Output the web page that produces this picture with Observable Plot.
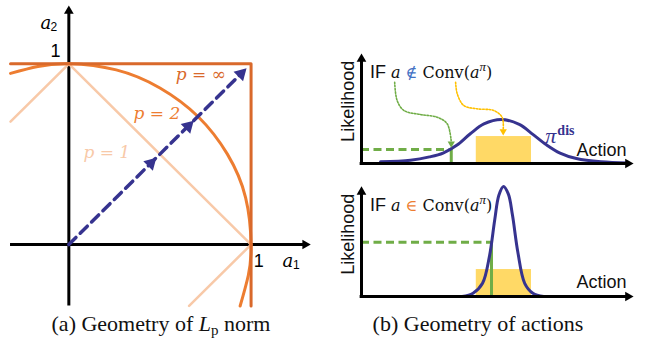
<!DOCTYPE html>
<html>
<head>
<meta charset="utf-8">
<script src="https://cdn.jsdelivr.net/npm/d3@7"></script>
<script src="https://cdn.jsdelivr.net/npm/@observablehq/plot@0.6"></script>
<style>
  body { margin: 0; background: #fff; }
  #fig { position: relative; width: 645px; height: 350px; overflow: hidden; font-family: "Liberation Sans", Arial, sans-serif; }
  .panel { position: absolute; }
  .panel svg { overflow: visible; }
  .cap { position: absolute; font-family: "Liberation Serif", "Times New Roman", serif; font-size: 22px; line-height: 1; white-space: nowrap; transform: translateX(-50%); color: #111; }
  .iftxt { position: absolute; font-size: 18px; line-height: 1; white-space: nowrap; color: #111; }
  .m { font-family: "DejaVu Serif", "DejaVu Sans", serif; font-size: 16px; }
  .iftxt sup { font-family: "Liberation Serif", serif; font-size: 13px; vertical-align: 7px; font-style: italic; }
</style>
</head>
<body>
<div id="fig"></div>
<script>
// ---------------- Panel (a): geometry of the L_p norm (unit-ball in a1/a2) ----------------
const a1AxisExtent = [-0.32, 1.327];
const a2AxisExtent = [-0.34, 1.322];
// p = 1 diamond (quadrants II, I, IV)
const p1X = [-0.32, 0, 1, 0.66];
const p1Y = [0.68, 1, 0, -0.34];
// p = 2 circle
const p2X = [-0.32, -0.17, 0, 0.26, 0.5, 0.71, 0.87, 0.97, 1.0, 0.985, 0.94];
const p2Y = [0.947, 0.985, 1, 0.966, 0.866, 0.707, 0.5, 0.26, 0, -0.17, -0.34];
// p = infinity square
const pInfX = [-0.32, 1, 1];
const pInfY = [1, 1, -0.34];
// dashed direction vector
const dirX = [0, 0.95];
const dirY = [0, 0.95];
const dirHeads = [0.45, 0.655, 0.945];
// norm labels
const normLabels = ["p = 1", "p = 2", "p = ∞"];
const normLabelX = [0.08, 0.355, 0.586];
const normLabelY = [0.481, 0.692, 0.91];
// axis labels / ticks
const tickLabels = ["1", "1"];
const tickX = [-0.045, 1.07];
const tickY = [1.035, -0.122];

// ---------------- Panel (b): geometry of actions ----------------
// top: wide distribution pi^dis
const topActions = [0.7, 1.8, 2.5, 3.0, 3.5, 4.0, 4.5, 5.15, 5.8, 6.3, 6.8, 7.3, 7.9, 8.8, 9.8];
const topLikelihood = [0.015, 0.03, 0.06, 0.095, 0.165, 0.27, 0.36, 0.40, 0.355, 0.265, 0.17, 0.095, 0.045, 0.015, 0.005];
// bottom: narrow distribution
const botActions = [3.7, 4.1, 4.45, 4.7, 4.9, 5.05, 5.22, 5.4, 5.55, 5.75, 6.0, 6.3, 6.7];
const botLikelihood = [0.0, 0.03, 0.12, 0.36, 0.70, 0.92, 1.0, 0.93, 0.74, 0.40, 0.12, 0.03, 0.0];
// convex hull of a^pi (yellow box)
const convRange = [4.22, 6.25];
const convHeight = 0.245;
// sampled action a and its likelihood
const sampleAction = [3.30, 4.78];
const sampleLikelihood = [0.127, 0.494];
// dotted pointer arrows (top panel)
const greenPtrA = [1.22, 1.31, 1.56, 2.17, 2.78, 3.15, 3.30];
const greenPtrL = [0.739, 0.573, 0.482, 0.445, 0.421, 0.361, 0.20];
const goldPtrA = [3.46, 3.52, 3.76, 4.25, 4.86, 5.17, 5.21];
const goldPtrL = [0.739, 0.634, 0.527, 0.497, 0.482, 0.421, 0.31];
const axisLabels = ["Likelihood", "Action"];

const pts = (xs, ys) => xs.map((x, i) => ({x, y: ys[i]}));

const NAVY = "#36338f", ORANGE = "#ed7d31", ORANGE_DARK = "#d9692b", ORANGE_LIGHT = "#f8c9a8";
const GREEN = "#70ad47", GOLD = "#ffc000", YELLOW = "#ffd966";
const mathFont = "DejaVu Serif";

const fig = document.getElementById("fig");
function place(node, left, top) {
  const d = document.createElement("div");
  d.className = "panel";
  d.style.left = left + "px";
  d.style.top = top + "px";
  d.appendChild(node);
  fig.appendChild(d);
}

// ---- panel (a)
const plotA = Plot.plot({
  width: 320, height: 310, margin: 0,
  x: {domain: [-0.375, 1.381], axis: null},
  y: {domain: [-0.365, 1.350], axis: null},
  marks: [
    Plot.ruleY([0], {x1: a1AxisExtent[0], x2: a1AxisExtent[1] - 0.02, stroke: "#000", strokeWidth: 3}),
    Plot.ruleX([0], {y1: a2AxisExtent[0], y2: a2AxisExtent[1] - 0.02, stroke: "#000", strokeWidth: 3}),
    Plot.dot([{x: a1AxisExtent[1], y: 0}], {x: "x", y: "y", symbol: "triangle", r: 3.6, rotate: 90, fill: "#000", dx: -5.5}),
    Plot.dot([{x: 0, y: a2AxisExtent[1]}], {x: "x", y: "y", symbol: "triangle", r: 3.6, rotate: 0, fill: "#000", dy: 5.5}),
    Plot.line(pts(p1X, p1Y), {x: "x", y: "y", stroke: ORANGE_LIGHT, strokeWidth: 2.5}),
    Plot.line(pts(p2X, p2Y), {x: "x", y: "y", curve: "natural", stroke: ORANGE, strokeWidth: 3}),
    Plot.line(pts(pInfX, pInfY), {x: "x", y: "y", stroke: ORANGE_DARK, strokeWidth: 3}),
    Plot.line(pts(dirX, dirY), {x: "x", y: "y", stroke: NAVY, strokeWidth: 3.5, strokeDasharray: "10,6"}),
    Plot.dot(dirHeads.map(t => ({x: t, y: t})), {x: "x", y: "y", symbol: "triangle", r: 5, rotate: 45, fill: NAVY}),
    Plot.text(normLabels.map((t, i) => ({t, x: normLabelX[i], y: normLabelY[i], c: [ORANGE_LIGHT, ORANGE, ORANGE_DARK][i]})),
      {x: "x", y: "y", text: "t", fill: "c", textAnchor: "start", lineAnchor: "bottom", fontFamily: mathFont, fontStyle: "italic", fontSize: 17}),
    Plot.text(tickLabels.map((t, i) => ({t, x: tickX[i], y: tickY[i]})),
      {x: "x", y: "y", text: "t", textAnchor: "end", lineAnchor: "bottom", fontSize: 18, fill: "#000", fontFamily: "Liberation Sans"}),
    Plot.text([{x: -0.155, y: 1.194}], {x: "x", y: "y", text: () => "a", textAnchor: "start", lineAnchor: "bottom", fontFamily: mathFont, fontStyle: "italic", fontSize: 18, fill: "#000"}),
    Plot.text([{x: -0.1, y: 1.179}], {x: "x", y: "y", text: () => "2", textAnchor: "start", lineAnchor: "bottom", fontFamily: "Liberation Sans", fontSize: 12, fill: "#000"}),
    Plot.text([{x: 1.172, y: -0.122}], {x: "x", y: "y", text: () => "a", textAnchor: "start", lineAnchor: "bottom", fontFamily: mathFont, fontStyle: "italic", fontSize: 18, fill: "#000"}),
    Plot.text([{x: 1.23, y: -0.138}], {x: "x", y: "y", text: () => "1", textAnchor: "start", lineAnchor: "bottom", fontFamily: "Liberation Sans", fontSize: 12, fill: "#000"})
  ]
});
place(plotA, 0, 0);

// ---- panel (b)
function actionPanel({height, yDomain, curveA, curveL, sampleIdx, pointers, piLabel, actionY}) {
  const marks = [
    Plot.rectY([{x1: convRange[0], x2: convRange[1], y: convHeight}], {x1: "x1", x2: "x2", y1: 0, y2: "y", fill: YELLOW}),
    Plot.ruleY([sampleLikelihood[sampleIdx]], {x1: 0, x2: sampleAction[sampleIdx], stroke: GREEN, strokeWidth: 3, strokeDasharray: "8,4.5"}),
    Plot.ruleX([sampleAction[sampleIdx]], {y1: 0, y2: sampleLikelihood[sampleIdx], stroke: GREEN, strokeWidth: 3}),
    Plot.line(pts(curveA, curveL), {x: "x", y: "y", curve: "catmull-rom", stroke: NAVY, strokeWidth: 3}),
    Plot.ruleY([0], {x1: -0.05, x2: 9.9, stroke: "#000", strokeWidth: 3}),
    Plot.ruleX([0], {y1: -0.015, y2: 0.97, stroke: "#000", strokeWidth: 3}),
    Plot.dot([{x: 10, y: 0}], {x: "x", y: "y", symbol: "triangle", r: 3.6, rotate: 90, fill: "#000", dx: -5.5}),
    Plot.dot([{x: 0, y: 1}], {x: "x", y: "y", symbol: "triangle", r: 3.6, rotate: 0, fill: "#000", dy: 5.5}),
    Plot.text([axisLabels[0]], {x: -0.26, y: 0.565, text: d => d, rotate: -90, textAnchor: "middle", lineAnchor: "bottom", fontSize: 18, fontFamily: "Liberation Sans", fill: "#111"}),
    Plot.text([axisLabels[1]], {x: 9.74, y: actionY, text: d => d, textAnchor: "end", lineAnchor: "bottom", fontSize: 18, fontFamily: "Liberation Sans", fill: "#111"})
  ];
  if (pointers) {
    for (const [pa, pl, col] of pointers) {
      marks.push(Plot.line(pts(pa, pl), {x: "x", y: "y", curve: "catmull-rom", stroke: col, strokeWidth: 1.6, strokeDasharray: "1.6,1.6"}));
      marks.push(Plot.dot([{x: pa[pa.length - 1], y: pl[pl.length - 1]}], {x: "x", y: "y", symbol: "triangle", r: 2.7, rotate: 180, fill: col, dy: 2}));
    }
  }
  if (piLabel) {
    marks.push(Plot.text([{x: 6.76, y: 0.19}], {x: "x", y: "y", text: () => "π", textAnchor: "start", lineAnchor: "bottom", fontFamily: "Liberation Serif", fontStyle: "italic", fontSize: 22, fill: NAVY}));
    marks.push(Plot.text([{x: 7.2, y: 0.262}], {x: "x", y: "y", text: () => "dis", textAnchor: "start", lineAnchor: "bottom", fontFamily: "Liberation Serif", fontWeight: "bold", fontSize: 14, fill: NAVY}));
  }
  return Plot.plot({
    width: 325, height, margin: 0,
    x: {domain: [-1.507, 10.441], axis: null},
    y: {domain: yDomain, axis: null},
    marks
  });
}

place(actionPanel({
  height: 170, yDomain: [-0.0636, 1.4818], curveA: topActions, curveL: topLikelihood, sampleIdx: 0,
  pointers: [[greenPtrA, greenPtrL, GREEN], [goldPtrA, goldPtrL, GOLD]], piLabel: true, actionY: 0.064
}), 320, 0);
place(actionPanel({
  height: 140, yDomain: [-0.127, 1.145], curveA: botActions, curveL: botLikelihood, sampleIdx: 1,
  pointers: null, piLabel: false, actionY: 0.073
}), 320, 170);

// ---- text overlays
function addHTML(html, cls, left, top) {
  const d = document.createElement("div");
  d.className = cls;
  d.style.left = left + "px";
  d.style.top = top + "px";
  d.innerHTML = html;
  fig.appendChild(d);
  return d;
}
addHTML('IF <span class="m"><i>a</i></span> <span class="m" style="color:#4472c4">∉</span> <span class="m">Conv(<i>a</i><sup>π</sup>)</span>', "iftxt", 370, 60);
addHTML('IF <span class="m"><i>a</i></span> <span class="m" style="color:#ed7d31">∈</span> <span class="m">Conv(<i>a</i><sup>π</sup>)</span>', "iftxt", 370, 193);
addHTML('(a) Geometry of <i>L</i><sub style="font-size:15px;vertical-align:-4px">p</sub> norm', "cap", 161, 313);
addHTML('(b) Geometry of actions', "cap", 478, 313);
</script>
</body>
</html>
